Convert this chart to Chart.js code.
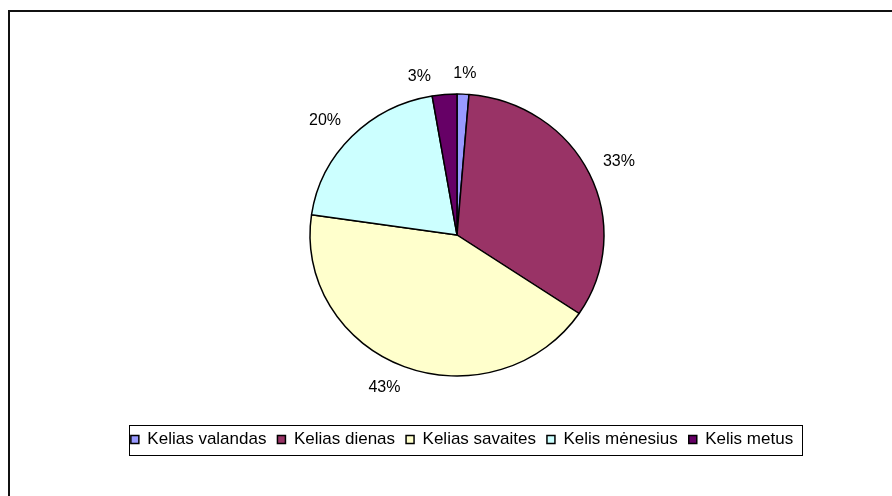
<!DOCTYPE html>
<html><head><meta charset="utf-8">
<script src="https://cdn.jsdelivr.net/npm/chart.js@4/dist/chart.umd.min.js"></script>
<style>html,body{margin:0;padding:0;background:#fff}#wrap{width:892px;height:496px;position:relative}</style>
</head><body><div id="wrap"><canvas id="c" width="892" height="496"></canvas></div>
<script>
const categories = ['Kelias valandas', 'Kelias dienas', 'Kelias savaites', 'Kelis mėnesius', 'Kelis metus'];
const shares = [1.3, 33.1, 42.9, 20.0, 2.7];
const sliceColors = ['#9999FF', '#993366', '#FFFFCC', '#CCFFFF', '#660066'];

const FONT = '"Liberation Sans", Arial, Helvetica, sans-serif';
const Y_SQUASH = 141 / 147;
const LABEL_GAP = 15;
const LABEL_MARGIN = 22;
const LEGEND_SHIFT = 5;

const piePlugin = {
  id: 'piePlugin',
  afterLayout(chart) {
    const lg = chart.legend;
    if (!lg) return;
    lg.left += LEGEND_SHIFT; lg.right += LEGEND_SHIFT;
    (lg.legendHitBoxes || []).forEach(h => { h.left += LEGEND_SHIFT; });
  },
  beforeDatasetsDraw(chart) {
    const ctx = chart.ctx;
    const arc = chart.getDatasetMeta(0).data[0];
    ctx.save();
    ctx.translate(arc.x, arc.y);
    ctx.scale(1, Y_SQUASH);
    ctx.translate(-arc.x, -arc.y);
  },
  afterDatasetsDraw(chart) {
    const ctx = chart.ctx;
    ctx.restore();
    const meta = chart.getDatasetMeta(0);
    const total = shares.reduce((a, b) => a + b, 0);
    ctx.save();
    ctx.font = '16px ' + FONT;
    ctx.fillStyle = '#000';
    ctx.textAlign = 'center';
    ctx.textBaseline = 'middle';
    const placed = [];
    const clamp = v => Math.max(-1, Math.min(1, v * 2.5));
    meta.data.forEach((arc, i) => {
      const p = arc.getProps(['x', 'y', 'outerRadius', 'startAngle', 'endAngle'], true);
      const text = Math.round(shares[i] / total * 100) + '%';
      const w = ctx.measureText(text).width, h = 13;
      const boxAt = a => {
        const ux = Math.cos(a), uy = Math.sin(a);
        const x = p.x + (p.outerRadius + LABEL_GAP) * ux + w / 2 * clamp(ux);
        const y = p.y + (p.outerRadius * Y_SQUASH + LABEL_GAP) * uy + h / 2 * clamp(uy) + 1;
        return {a, x, y, l: x - w / 2, r: x + w / 2, t: y - h / 2, b: y + h / 2};
      };
      const M = LABEL_MARGIN;
      const hits = b => placed.find(q => b.l < q.r + M && b.r > q.l - M && b.t < q.b + 2 && b.b > q.t - 2);
      let a = (p.startAngle + p.endAngle) / 2;
      let box = boxAt(a), other = hits(box), n = 0;
      while (other && n < 90) {
        const d = Math.atan2(Math.sin(a - other.a), Math.cos(a - other.a));
        a += (d < 0 ? -1 : 1) * Math.PI / 360;
        box = boxAt(a); other = hits(box); n++;
      }
      placed.push(box);
      ctx.fillText(text, box.x, box.y);
    });
    ctx.restore();
  },
  afterDraw(chart) {
    const ctx = chart.ctx;
    ctx.save();
    // outer chart frame
    ctx.strokeStyle = '#111';
    ctx.lineWidth = 2;
    ctx.strokeRect(9, 11, 1000, 1000);
    // legend frame
    const hb = chart.legend.legendHitBoxes;
    if (hb && hb.length) {
      const l = Math.min(...hb.map(h => h.left)) - 2;
      const r = Math.max(...hb.map(h => h.left + h.width)) + 9;
      const cy = hb[0].top + hb[0].height / 2;
      ctx.strokeStyle = '#000';
      ctx.lineWidth = 1;
      ctx.strokeRect(Math.round(l) + 0.5, Math.round(cy - 15) + 0.5, Math.round(r - l), 30);
    }
    ctx.restore();
  }
};

new Chart(document.getElementById('c'), {
  type: 'pie',
  data: {
    labels: categories,
    datasets: [{
      data: shares,
      backgroundColor: sliceColors,
      borderColor: '#000',
      borderWidth: 1.5,
      radius: 147
    }]
  },
  options: {
    responsive: false,
    animation: false,
    devicePixelRatio: 1,
    layout: {padding: {left: 22, right: 0, top: 50, bottom: 38}},
    plugins: {
      tooltip: {enabled: false},
      legend: {
        position: 'bottom',
        labels: {
          boxWidth: 8,
          boxHeight: 8,
          padding: 11,
          color: '#000',
          font: {family: FONT, size: 17}
        }
      }
    }
  },
  plugins: [piePlugin]
});
</script></body></html>
